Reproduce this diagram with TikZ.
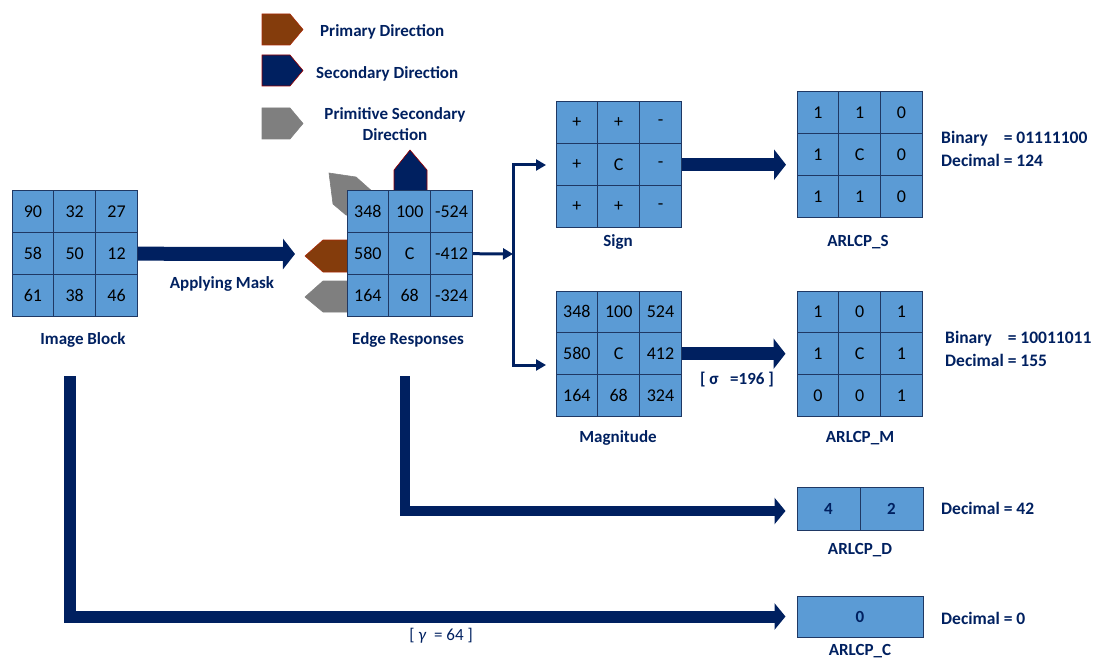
\documentclass[tikz,border=0pt]{standalone}
\usepackage{fontspec}
\usepackage{calc}
\setmainfont{Carlito}
\usetikzlibrary{arrows.meta}
\definecolor{navy}{HTML}{002060}
\definecolor{cellblue}{HTML}{5B9BD5}
\definecolor{cellline}{HTML}{1F3864}
\definecolor{dirbrown}{HTML}{843C0C}
\definecolor{dirgray}{HTML}{7F7F7F}
\definecolor{dirnavy}{HTML}{002060}
\newcommand\mkgrid[4]{%
  \foreach \v [count=\i from 0] in {#4} {
    \pgfmathtruncatemacro\rr{div(\i,3)}
    \pgfmathtruncatemacro\cc{mod(\i,3)}
    \pgfmathtruncatemacro\rn{\rr+1}
    \pgfmathtruncatemacro\cn{\cc+1}
    \node[cell] (#1-\rn-\cn) at ({#2+(\cc+0.5)*41.8},{#3+(\rr+0.5)*41.8}) {\v};
  }}
\tikzset{
  cell/.style={draw=cellline, fill=cellblue, line width=1pt, minimum width=41.8pt,
    minimum height=41.8pt, inner sep=0pt, text=black, font=\fontsize{18}{18}\selectfont},
  lbl/.style={text=navy, font=\fontsize{17}{17}\selectfont\bfseries, inner sep=0pt},
  info/.style={text=navy, font=\fontsize{17.5}{17.5}\selectfont\bfseries, inner sep=0pt, anchor=west},
  bigarr/.style={draw=navy, line width=14pt, line join=miter,
    -{Triangle[width=30pt,length=12pt]}},
  medarr/.style={draw=navy, line width=11pt, line join=miter,
    -{Triangle[width=26pt,length=11pt]}},
  thinarr/.style={draw=navy, line width=3pt, line join=miter,
    -{Triangle[width=11pt,length=10pt]}},
  dirshape/.style={line width=0.6pt}
}
\newcommand\binline[2]{\makebox[\widthof{Decimal }][l]{#1}#2}
\begin{document}
\begin{tikzpicture}[x=1pt,y=-1pt]
\useasboundingbox (0,0) rectangle (1101,658);

% legend
\filldraw[dirshape, fill=dirbrown, draw=dirbrown!70!red] (262,14) -- (290,14) -- (303,29.5) -- (290,45) -- (262,45) -- cycle;
\filldraw[dirshape, fill=dirnavy, draw=red!60!black] (262,55) -- (290,55) -- (303,70.5) -- (290,86) -- (262,86) -- cycle;
\filldraw[dirshape, fill=dirgray, draw=dirgray] (262,108) -- (290,108) -- (303,123.5) -- (290,139) -- (262,139) -- cycle;
\node[lbl, anchor=west] (lgp) at (320,32) {Primary Direction};
\node[lbl, anchor=west] (lgs) at (316,74) {Secondary Direction};
\node[lbl, align=center, font=\fontsize{17}{21}\selectfont\bfseries] (lgm) at (395,124) {Primitive Secondary\\Direction};

% direction shapes around edge responses
\filldraw[dirshape, fill=dirgray, draw=dirgray] (329,173) -- (356,177) -- (374,193) -- (374,215) -- (346,215) -- (333,204) -- cycle;
\filldraw[dirshape, fill=dirnavy, draw=red!60!black] (394,195) -- (394,170) -- (410,150) -- (427,170) -- (427,195) -- cycle;
\filldraw[dirshape, fill=dirbrown, draw=dirbrown!70!red] (350,240) -- (323,240) -- (305,256) -- (323,272) -- (350,272) -- cycle;
\filldraw[dirshape, fill=dirgray, draw=dirgray] (350,281) -- (323,281) -- (305,297) -- (323,312) -- (350,312) -- cycle;

% grids
\mkgrid{ib}{12}{191}{90,32,27,58,50,12,61,38,46}
\mkgrid{er}{347}{191}{348,100,-524,580,C,-412,164,68,-324}
\mkgrid{sg}{556}{102}{+,+,-,+,C,-,+,+,-}
\mkgrid{mg}{556}{291}{348,100,524,580,C,412,164,68,324}
\mkgrid{as}{797}{92}{1,1,0,1,C,0,1,1,0}
\mkgrid{am}{797}{291}{1,0,1,1,C,1,0,0,1}
\node[cell, minimum width=63pt, minimum height=43pt, text=navy, font=\fontsize{17}{17}\selectfont\bfseries] (ad-1) at (828.5,508.5) {4};
\node[cell, minimum width=63pt, minimum height=43pt, text=navy, font=\fontsize{17}{17}\selectfont\bfseries] (ad-2) at (891.5,508.5) {2};
\node[cell, minimum width=126pt, minimum height=41pt, text=navy, font=\fontsize{17}{17}\selectfont\bfseries] (ac) at (860,616.5) {0};

% labels
\node[lbl] (lib) at (83,340) {Image Block};
\node[lbl] (ler) at (408,340) {Edge Responses};
\node[lbl] (lsg) at (618,242) {Sign};
\node[lbl] (lmg) at (618,438) {Magnitude};
\node[lbl] (las) at (858,242) {ARLCP\_S};
\node[lbl] (lam) at (860,438) {ARLCP\_M};
\node[lbl] (lad) at (860,550) {ARLCP\_D};
\node[lbl] (lac) at (860,651) {ARLCP\_C};
\node[lbl] (lmask) at (222,284) {Applying Mask};
\node[lbl, font=\fontsize{17}{17}\selectfont\bfseries] (lsig) at (737,380) {[ σ \ \ =196 ]};
\node[lbl, font=\fontsize{17}{17}\selectfont] (lgam) at (441,636) {[ \textit{γ} \ = 64 ]};

\node[info] (bs) at (941,139) {\binline{Binary}{= 01111100}};
\node[info] (ds) at (941,160) {Decimal = 124};
\node[info] (bm) at (945,339) {\binline{Binary}{= 10011011}};
\node[info] (dm) at (945,360) {Decimal = 155};
\node[info] (dd) at (941,508) {Decimal = 42};
\node[info] (dc) at (941,618) {Decimal = 0};

% connectors
\coordinate (maskend) at (295,254);
\draw[bigarr] (ib-2-3.east) -- (maskend);
\coordinate (split) at (513,254);
\draw[thinarr] (er-2-3.east) -- (split);
\coordinate (sgin) at (546,165);
\coordinate (mgin) at (546,365);
\draw[thinarr] (split) |- (sgin);
\draw[thinarr] (split) |- (mgin);
\coordinate (asin) at (786,165);
\draw[bigarr, line width=13pt] (sg-2-3.east) -- (sg-2-3.east -| asin);
\draw[bigarr, line width=13pt] (mg-2-3.east) -- ([xshift=-11pt]am-2-1.west);
\coordinate (erdown) at (405,376);
\coordinate (ibdown) at (70,376);
\draw[medarr, line width=10pt] (erdown) |- ([xshift=-11pt,yshift=-2.5pt]ad-1.west);
\draw[medarr, line width=12pt] (ibdown) |- ([xshift=-11pt]ac.west);
\end{tikzpicture}
\end{document}
